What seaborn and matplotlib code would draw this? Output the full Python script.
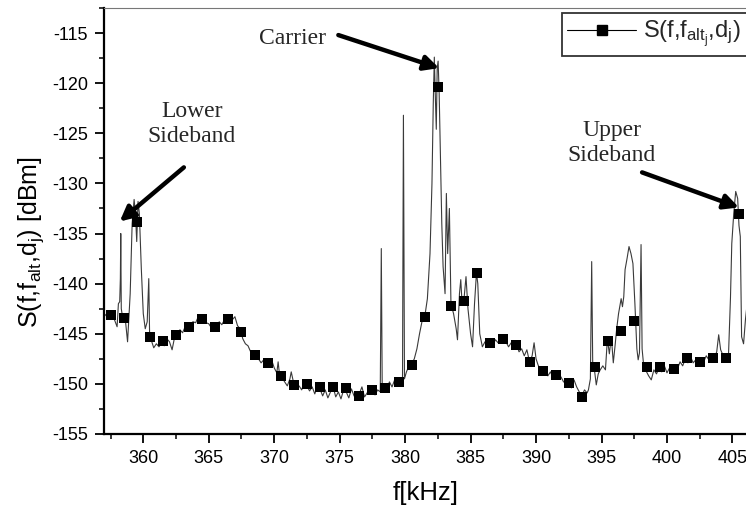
import matplotlib
matplotlib.use("Agg")
import matplotlib.pyplot as plt
from matplotlib.lines import Line2D
from matplotlib.ticker import MultipleLocator
import seaborn as sns
import pandas as pd

# ---- data ----
trace_f = [357.0, 357.2, 357.4, 357.6, 357.8, 358.0, 358.1, 358.2, 358.25, 358.28, 358.32, 358.45,
           358.6, 358.8, 359.0, 359.15, 359.3, 359.4, 359.5, 359.6, 359.7, 359.85, 360.0, 360.15,
           360.3, 360.42, 360.48, 360.6, 360.8, 361.0, 361.2, 361.4, 361.6, 361.8, 362.0, 362.2,
           362.4, 362.6, 362.8, 363.0, 363.2, 363.4, 363.6, 363.8, 364.0, 364.2, 364.4, 364.6,
           364.8, 365.0, 365.2, 365.4, 365.6, 365.8, 366.0, 366.2, 366.4, 366.6, 366.8, 367.0,
           367.2, 367.4, 367.6, 367.8, 368.0, 368.2, 368.4, 368.6, 368.8, 369.0, 369.2, 369.4,
           369.6, 369.8, 370.0, 370.2, 370.3, 370.4, 370.6, 370.8, 371.0, 371.2, 371.3, 371.5,
           371.7, 371.9, 372.1, 372.3, 372.5, 372.7, 372.9, 373.1, 373.3, 373.5, 373.7, 373.9,
           374.1, 374.3, 374.5, 374.7, 374.9, 375.1, 375.3, 375.5, 375.7, 375.9, 376.1, 376.3,
           376.5, 376.7, 376.9, 377.1, 377.3, 377.5, 377.7, 377.9, 378.1, 378.18, 378.25, 378.4,
           378.6, 378.8, 379.0, 379.2, 379.4, 379.6, 379.8, 379.87, 379.95, 380.1, 380.3, 380.5,
           380.7, 380.9, 381.1, 381.3, 381.5, 381.7, 381.9, 382.05, 382.15, 382.23, 382.3, 382.38,
           382.45, 382.52, 382.6, 382.7, 382.8, 382.9, 383.05, 383.15, 383.25, 383.38, 383.5, 383.7,
           383.9, 384.0, 384.15, 384.25, 384.35, 384.5, 384.65, 384.8, 385.0, 385.15, 385.3, 385.45,
           385.55, 385.7, 385.9, 386.1, 386.3, 386.5, 386.7, 386.9, 387.1, 387.3, 387.5, 387.7,
           387.9, 388.1, 388.3, 388.5, 388.7, 388.9, 389.1, 389.3, 389.5, 389.7, 389.85, 390.0,
           390.15, 390.3, 390.5, 390.7, 390.9, 391.1, 391.3, 391.5, 391.7, 391.9, 392.1, 392.3,
           392.5, 392.7, 392.9, 393.1, 393.3, 393.5, 393.7, 393.9, 394.0, 394.15, 394.25, 394.33,
           394.45, 394.6, 394.75, 394.9, 395.1, 395.3, 395.45, 395.6, 395.75, 395.9, 396.05, 396.15,
           396.3, 396.5, 396.6, 396.7, 396.8, 396.95, 397.1, 397.25, 397.4, 397.55, 397.7, 397.8,
           397.9, 398.02, 398.1, 398.2, 398.4, 398.6, 398.8, 399.0, 399.2, 399.4, 399.6, 399.8,
           400.0, 400.2, 400.4, 400.6, 400.8, 401.0, 401.2, 401.4, 401.6, 401.8, 402.0, 402.2,
           402.4, 402.6, 402.8, 403.0, 403.2, 403.4, 403.6, 403.8, 403.95, 404.1, 404.3, 404.5,
           404.7, 404.85, 404.95, 405.1, 405.25, 405.4, 405.5, 405.6, 405.7, 405.85, 406.0, 406.1,
           406.2]
trace_db = [-143.3, -143.0, -143.4, -143.2, -143.6, -144.3, -142.0, -141.8, -139.5, -135.0, -142.5, -143.6,
            -143.2, -145.8, -141.0, -134.0, -131.6, -133.0, -135.8, -131.8, -133.0, -138.5, -143.0, -144.5,
            -143.8, -139.5, -144.8, -145.6, -146.4, -146.0, -146.3, -145.9, -146.2, -145.5, -145.8, -146.6,
            -145.3, -145.0, -144.6, -144.9, -144.3, -144.5, -144.0, -143.8, -143.9, -143.3, -143.6, -143.4,
            -143.9, -144.0, -144.4, -144.0, -144.5, -143.8, -144.1, -143.6, -143.9, -143.4, -143.6, -143.3,
            -144.2, -144.5, -145.5, -146.0, -146.2, -146.8, -147.3, -147.0, -147.5, -147.9, -147.6, -148.2,
            -148.0, -147.6, -148.4, -148.9, -147.8, -149.0, -149.4, -149.8, -150.2, -149.5, -148.8, -150.0,
            -150.5, -150.2, -150.6, -149.8, -150.2, -150.7, -150.3, -151.0, -150.2, -150.5, -151.2, -150.6,
            -151.4, -150.8, -150.3, -151.3, -150.8, -151.5, -150.6, -150.8, -151.4, -150.5, -151.2, -151.5,
            -151.0, -150.3, -151.3, -150.9, -150.2, -150.7, -151.1, -150.6, -150.8, -136.5, -150.5, -150.0,
            -150.6, -149.8, -150.3, -149.6, -150.0, -149.4, -149.8, -123.2, -149.5, -148.8, -148.2, -148.0,
            -147.5, -146.5, -145.0, -143.7, -143.3, -141.5, -137.0, -130.0, -122.0, -117.4, -121.0, -124.6,
            -118.5, -117.8, -121.0, -127.5, -134.0, -138.3, -141.0, -131.0, -137.0, -132.5, -142.0, -143.0,
            -144.5, -145.6, -141.0, -139.6, -142.0, -141.5, -139.3, -142.5, -145.0, -146.3, -142.0, -138.9,
            -140.0, -145.0, -146.3, -145.8, -146.2, -145.7, -146.1, -145.6, -145.9, -145.4, -145.6, -145.8,
            -146.3, -145.9, -146.4, -146.0, -146.8, -146.5, -147.2, -146.6, -147.8, -147.2, -145.9, -147.5,
            -148.1, -148.5, -148.9, -148.5, -149.2, -148.8, -149.4, -149.0, -149.5, -149.3, -149.8, -149.9,
            -149.7, -150.4, -149.6, -150.3, -150.8, -151.2, -150.6, -150.9, -150.6, -149.5, -137.8, -148.3,
            -148.5, -150.1, -149.0, -148.6, -148.2, -148.6, -145.5, -147.0, -145.3, -147.9, -146.0, -144.6,
            -143.0, -141.5, -142.3, -141.3, -138.6, -137.5, -136.3, -137.0, -138.0, -142.0, -146.5, -147.6,
            -146.9, -136.1, -146.5, -147.9, -148.7, -149.2, -149.6, -148.6, -149.0, -148.4, -148.8, -148.2,
            -148.9, -148.4, -148.7, -148.1, -148.5, -147.8, -148.2, -147.5, -147.9, -147.3, -147.9, -147.6,
            -148.0, -147.4, -147.8, -147.2, -147.6, -147.3, -147.5, -146.8, -145.1, -146.6, -147.2, -147.3,
            -147.1, -141.4, -136.0, -133.0, -130.8, -131.5, -134.2, -135.3, -145.3, -146.0, -143.5, -142.3,
            -145.5]

marker_f = [357.5, 358.5, 359.5, 360.5, 361.5, 362.5, 363.5, 364.5, 365.5, 366.5, 367.5, 368.5,
            369.5, 370.5, 371.5, 372.5, 373.5, 374.5, 375.5, 376.5, 377.5, 378.5, 379.5, 380.5,
            381.5, 382.5, 383.5, 384.5, 385.5, 386.5, 387.5, 388.5, 389.5, 390.5, 391.5, 392.5,
            393.5, 394.5, 395.5, 396.5, 397.5, 398.5, 399.5, 400.5, 401.5, 402.5, 403.5, 404.5,
            405.5]
marker_db = [-143.1, -143.4, -133.8, -145.3, -145.7, -145.1, -144.3, -143.5, -144.3, -143.5, -144.8, -147.1,
             -147.9, -149.2, -150.1, -150.0, -150.3, -150.3, -150.4, -151.2, -150.6, -150.4, -149.8, -148.1,
             -143.3, -120.4, -142.2, -141.7, -138.9, -145.9, -145.5, -146.1, -147.8, -148.7, -149.1, -149.9,
             -151.3, -148.3, -145.7, -144.7, -143.7, -148.3, -148.3, -148.5, -147.4, -147.8, -147.4, -147.4,
             -133.1]

x_ticks = [360, 365, 370, 375, 380, 385, 390, 395, 400, 405]
y_ticks = [-155, -150, -145, -140, -135, -130, -125, -120, -115]

legend_label = r"S(f,f$_{alt_j}$,d$_j$)"
y_label = r"S(f,f$_{alt}$,d$_j$) [dBm]"
x_label = "f[kHz]"

# ---- styling ----
sns.set_theme(style="white")
plt.rcParams["font.family"] = ["Liberation Sans", "DejaVu Sans"]
plt.rcParams["mathtext.default"] = "regular"
plt.rcParams["axes.unicode_minus"] = False

fig = plt.figure(figsize=(7.46, 5.08), dpi=100)
ax = fig.add_axes([104 / 746, 74 / 508, 1.0 - 104 / 746 + 0.002, (434 - 8) / 508])

trace = pd.DataFrame({"f": trace_f, "S": trace_db})
marks = pd.DataFrame({"f": marker_f, "S": marker_db})

sns.lineplot(data=trace, x="f", y="S", ax=ax, color="#3a3a3a", lw=0.8,
             estimator=None, sort=False, legend=False)
sns.scatterplot(data=marks, x="f", y="S", ax=ax, marker="s", s=58, color="black",
                edgecolor="black", linewidth=0, legend=False, zorder=3)

ax.set_xlim(357.0, 406.15)
ax.set_ylim(-155, -112.5)
ax.set_xticks(x_ticks)
ax.set_yticks(y_ticks)
ax.xaxis.set_minor_locator(MultipleLocator(2.5))
ax.yaxis.set_minor_locator(MultipleLocator(2.5))
ax.tick_params(axis="both", which="major", direction="out", length=6.5, width=1.3,
               labelsize=13, color="black", labelcolor="black", pad=5)
ax.tick_params(axis="both", which="minor", direction="out", length=3.5, width=1.1, color="black")
ax.tick_params(axis="x", which="both", bottom=True)
ax.tick_params(axis="y", which="both", left=True)

for side in ["left", "bottom"]:
    ax.spines[side].set_linewidth(1.6)
    ax.spines[side].set_color("black")
ax.spines["top"].set_linewidth(0.8)
ax.spines["top"].set_color("#777777")
ax.spines["right"].set_visible(False)

ax.set_xlabel(x_label, fontsize=18.5, color="black", labelpad=10)
ax.set_ylabel(y_label, fontsize=18, color="black")
ax.yaxis.set_label_coords(-0.09, 0.45)

handle = Line2D([], [], color="black", lw=0.8, marker="s", markersize=6.5)
leg = ax.legend([handle], [legend_label], loc="upper right", bbox_to_anchor=(0.9985, 0.988),
                fontsize=17, frameon=True, fancybox=False, handlelength=2.9,
                borderpad=0.25, handletextpad=0.3, borderaxespad=0.0)
leg.get_frame().set_edgecolor("black")
leg.get_frame().set_linewidth(1.3)

serif = ["Liberation Serif", "DejaVu Serif"]
arrow = dict(arrowstyle="-|>", lw=3.2, color="black", mutation_scale=22, shrinkA=0, shrinkB=0)
ax.annotate("", xy=(382.6, -118.5), xytext=(374.9, -115.2), arrowprops=arrow)
ax.text(371.4, -115.5, "Carrier", family=serif, fontsize=17, ha="center", va="center")

ax.annotate("", xy=(358.2, -133.8), xytext=(363.1, -128.4), arrowprops=arrow)
ax.text(363.7, -124.1, "Lower\nSideband", family=serif, fontsize=17, ha="center", va="center",
        linespacing=1.25)

ax.annotate("", xy=(405.5, -132.4), xytext=(398.1, -128.9), arrowprops=arrow)
ax.text(395.8, -126.0, "Upper\nSideband", family=serif, fontsize=17, ha="center", va="center",
        linespacing=1.25)

fig.savefig("out.png", dpi=100)
